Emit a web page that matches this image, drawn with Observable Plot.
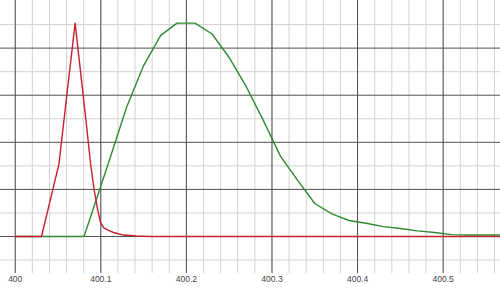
<!DOCTYPE html>
<html>
<head>
<meta charset="utf-8">
<script src="https://cdn.jsdelivr.net/npm/d3@7"></script>
<script src="https://cdn.jsdelivr.net/npm/@observablehq/plot@0.6"></script>
<style>
  html, body { margin: 0; padding: 0; background: #fff; }
  #chart svg { display: block; }
</style>
</head>
<body>
<div id="chart"></div>
<script>
// Red series (wavelength, intensity)
const redX = [400.000, 400.0307, 400.051, 400.070, 400.0827, 400.088, 400.0918, 400.0958, 400.0996, 400.1032, 400.109, 400.1148, 400.1265, 400.1417, 400.158, 400.567];
const redY = [0, 0, 1.53, 4.53, 2.46, 1.55, 1.04, 0.62, 0.30, 0.19, 0.13, 0.085, 0.03, 0.01, 0.0, 0.0];

// Green series (wavelength, intensity)
const greenX = [400.000, 400.0804, 400.110, 400.130, 400.150, 400.170, 400.189, 400.210, 400.230, 400.250, 400.270, 400.290, 400.310, 400.330, 400.350, 400.370, 400.390, 400.410, 400.430, 400.450, 400.470, 400.490, 400.510, 400.530, 400.567];
const greenY = [0, 0, 1.62, 2.74, 3.63, 4.27, 4.53, 4.53, 4.30, 3.80, 3.18, 2.46, 1.70, 1.19, 0.70, 0.48, 0.34, 0.28, 0.21, 0.17, 0.12, 0.085, 0.04, 0.03, 0.03];

// Axis tick values
const xMajorTicks = [400, 400.1, 400.2, 400.3, 400.4, 400.5];
const xMinorTicks = d3.range(0, 29).map(i => +(400 + i * 0.02).toFixed(2));
const yMajorTicks = [0, 1, 2, 3, 4];
const yMinorTicks = [-0.5, 0.5, 1.5, 2.5, 3.5, 4.5];

const red = redX.map((x, i) => ({x, y: redY[i]}));
const green = greenX.map((x, i) => ({x, y: greenY[i]}));

const chart = Plot.plot({
  width: 500,
  height: 292,
  marginLeft: 0,
  marginRight: 0,
  marginTop: 0,
  marginBottom: 19,
  style: {background: "#fff"},
  x: {domain: [399.9828, 400.567], axis: null, label: null},
  y: {domain: [-0.786, 5.011], axis: null, label: null},
  marks: [
    Plot.gridX(xMinorTicks, {stroke: "#d2d2d2", strokeOpacity: 1, strokeWidth: 1}),
    Plot.gridY(yMinorTicks, {stroke: "#d2d2d2", strokeOpacity: 1, strokeWidth: 1}),
    Plot.gridX(xMajorTicks, {stroke: "#505050", strokeOpacity: 1, strokeWidth: 1}),
    Plot.gridY(yMajorTicks, {stroke: "#505050", strokeOpacity: 1, strokeWidth: 1}),
    Plot.line(green, {x: "x", y: "y", stroke: "#2f8a2f", strokeWidth: 1.4}),
    Plot.line(red, {x: "x", y: "y", stroke: "#c8202e", strokeWidth: 1.4}),
    Plot.axisX(xMajorTicks, {
      label: null,
      tickSize: 0,
      tickPadding: 2,
      tickFormat: d => String(+d.toFixed(1)),
      fontSize: 8.5,
      fontFamily: "'Liberation Sans Narrow', 'Liberation Sans', Arial, sans-serif",
      fill: "#444"
    })
  ]
});
document.getElementById("chart").appendChild(chart);
</script>
</body>
</html>
